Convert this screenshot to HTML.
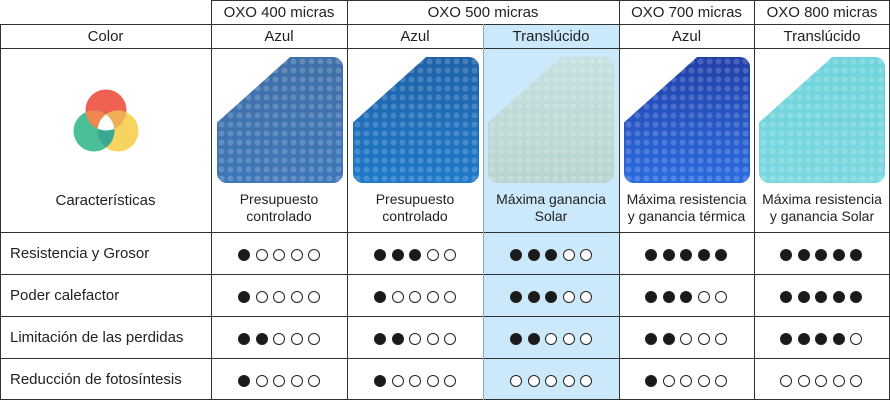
<!DOCTYPE html>
<html><head><meta charset="utf-8"><style>
*{margin:0;padding:0;box-sizing:border-box}
body{width:890px;height:400px;background:#fff;position:relative;overflow:hidden;font-family:"Liberation Sans",sans-serif;color:#222}
.a{position:absolute}
.hl{position:absolute;left:483px;top:25px;width:136px;height:375px;background:#cce8fb}
.v{position:absolute;width:1px;background:#333}
.h{position:absolute;height:1px;background:#333}
.t{position:absolute;text-align:center;font-size:15px;line-height:18px}
.s{position:absolute;text-align:center;font-size:14px;line-height:17px}
.l{position:absolute;left:10px;font-size:15px}
.img{position:absolute;width:126px;height:126px;border-radius:10px;clip-path:polygon(0 52%,58% 0,100% 0,100% 100%,0 100%);
background-image:radial-gradient(circle at 50% 50%,rgba(255,255,255,.18) 0 2.5px,transparent 3.5px),var(--bg);background-size:9px 9px,100% 100%}
.dots{position:absolute;display:flex;gap:5.5px}
.d{width:12px;height:12px;border-radius:50%;border:1px solid #222}
.f{background:#1a1a1a}
.o{background:#fff}
</style></head><body>
<div class="hl"></div>
<div class="h" style="left:211px;top:0;width:679px"></div>
<div class="h" style="left:0;top:24px;width:890px"></div>
<div class="h" style="left:0;top:48px;width:890px"></div>
<div class="h" style="left:0;top:232px;width:890px"></div>
<div class="h" style="left:0;top:274px;width:890px"></div>
<div class="h" style="left:0;top:316px;width:890px"></div>
<div class="h" style="left:0;top:358px;width:890px"></div>
<div class="h" style="left:0;top:399px;width:890px"></div>
<div class="v" style="left:0;top:24px;height:376px"></div>
<div class="v" style="left:211px;top:0;height:400px"></div>
<div class="v" style="left:347px;top:0;height:400px"></div>
<div class="v" style="left:483px;top:24px;height:376px;background:#8ab"></div>
<div class="v" style="left:619px;top:0;height:400px"></div>
<div class="v" style="left:754px;top:0;height:400px"></div>
<div class="v" style="left:889px;top:0;height:400px"></div>

<div class="t" style="left:211px;width:136px;top:4px">OXO 400 micras</div>
<div class="t" style="left:347px;width:272px;top:4px">OXO 500 micras</div>
<div class="t" style="left:619px;width:135px;top:4px">OXO 700 micras</div>
<div class="t" style="left:754px;width:136px;top:4px">OXO 800 micras</div>
<div class="t" style="left:0;width:211px;top:28px">Color</div>
<div class="t" style="left:211px;width:136px;top:28px">Azul</div>
<div class="t" style="left:347px;width:136px;top:28px">Azul</div>
<div class="t" style="left:483px;width:136px;top:28px">Translúcido</div>
<div class="t" style="left:619px;width:135px;top:28px">Azul</div>
<div class="t" style="left:754px;width:136px;top:28px">Translúcido</div>

<svg class="a" style="left:73px;top:88px" width="66" height="64" viewBox="0 0 66 64">
<clipPath id="c1"><circle cx="33" cy="22" r="20.5"/></clipPath>
<clipPath id="c2"><circle cx="45" cy="43" r="20.5"/></clipPath>
<clipPath id="c3"><circle cx="21" cy="43" r="20.5"/></clipPath>
<circle cx="33" cy="22" r="20.5" fill="#ef6152"/>
<circle cx="21" cy="43" r="20.5" fill="#4bbf98"/>
<circle cx="45" cy="43" r="20.5" fill="#f7d460"/>
<g clip-path="url(#c1)"><circle cx="21" cy="43" r="20.5" fill="#f0874e"/><circle cx="45" cy="43" r="20.5" fill="#efae58"/></g>
<g clip-path="url(#c2)"><circle cx="21" cy="43" r="20.5" fill="#3aa895"/></g>
<g clip-path="url(#c1)"><g clip-path="url(#c2)"><circle cx="21" cy="43" r="20.5" fill="#fff"/></g></g>
</svg>
<div class="t" style="left:0;width:211px;top:192px">Características</div>

<div class="img" style="left:217px;top:57px;--bg:linear-gradient(180deg,#3f6fa8,#3f77b8)"></div>
<div class="img" style="left:353px;top:57px;--bg:linear-gradient(180deg,#1d62a8,#1f79c9)"></div>
<div class="img" style="left:488px;top:57px;--bg:linear-gradient(180deg,#c5e0df,#b9d3cf)"></div>
<div class="img" style="left:624px;top:57px;--bg:linear-gradient(180deg,#213fa8,#2b6be0)"></div>
<div class="img" style="left:759px;top:57px;--bg:linear-gradient(180deg,#6fd4db,#7ad8df)"></div>

<div class="s" style="left:211px;width:136px;top:191px">Presupuesto<br>controlado</div>
<div class="s" style="left:347px;width:136px;top:191px">Presupuesto<br>controlado</div>
<div class="s" style="left:483px;width:136px;top:191px">Máxima ganancia<br>Solar</div>
<div class="s" style="left:619px;width:135px;top:191px">Máxima resistencia<br>y ganancia térmica</div>
<div class="s" style="left:754px;width:136px;top:191px">Máxima resistencia<br>y ganancia Solar</div>

<div class="l" style="top:245px">Resistencia y Grosor</div>
<div class="l" style="top:287px">Poder calefactor</div>
<div class="l" style="top:329px">Limitación de las perdidas</div>
<div class="l" style="top:371px">Reducción de fotosíntesis</div>

<div id="g"></div>
<script>
var data=[[1,3,3,5,5],[1,1,3,3,5],[2,2,2,2,4],[1,1,0,1,0]];
var xs=[238,374,510,645,780],ys=[249,291,333,375],h='';
for(var r=0;r<4;r++)for(var c=0;c<5;c++){h+='<div class="dots" style="left:'+xs[c]+'px;top:'+ys[r]+'px">';for(var k=0;k<5;k++)h+='<div class="d '+(k<data[r][c]?'f':'o')+'"></div>';h+='</div>';}
document.getElementById('g').innerHTML=h;
</script>
</body></html>
